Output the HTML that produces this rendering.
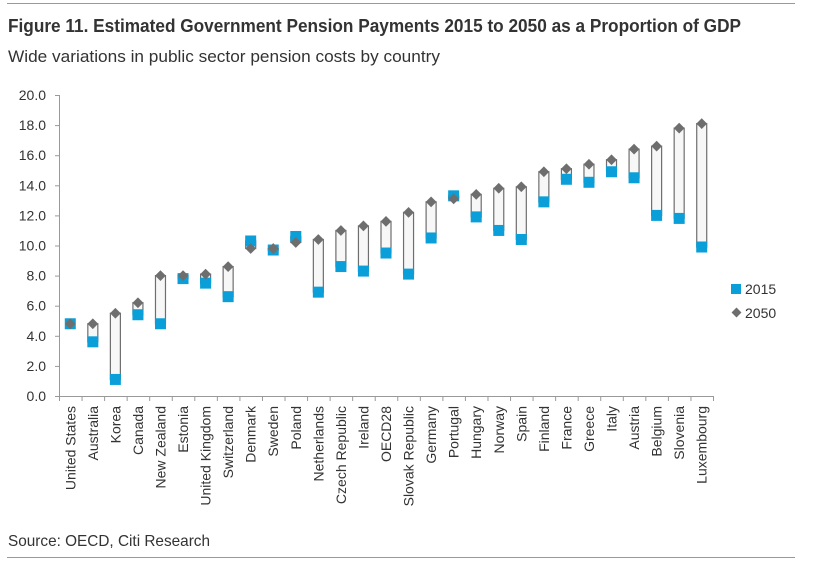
<!DOCTYPE html>
<html><head><meta charset="utf-8"><style>
body{margin:0;background:#fff;}
svg{display:block;font-family:"Liberation Sans",Arial,sans-serif;}
</style></head><body>
<svg id="chart" width="821" height="565" viewBox="0 0 821 565">
<line x1="7" y1="3.5" x2="795" y2="3.5" stroke="#999" stroke-width="1"/>
<text x="8" y="32" font-size="18" font-weight="bold" fill="#333" textLength="733" lengthAdjust="spacingAndGlyphs">Figure 11. Estimated Government Pension Payments 2015 to 2050 as a Proportion of GDP</text>
<text x="8" y="62" font-size="17" fill="#333" textLength="432" lengthAdjust="spacingAndGlyphs">Wide variations in public sector pension costs by country</text>
<g id="yaxis"></g>
<g id="xaxis"></g>
<g id="marks"></g>
<g>
<rect x="731" y="284" width="10" height="10" fill="#0a9fd8"/>
<text x="745" y="294" font-size="14" fill="#333">2015</text>
<rect x="733" y="309" width="7" height="7" fill="#6e6e6e" transform="rotate(45 736.5 312.5)"/>
<text x="745" y="318" font-size="14" fill="#333">2050</text>
</g>
<text x="8" y="546" font-size="16" fill="#333" textLength="202" lengthAdjust="spacingAndGlyphs">Source: OECD, Citi Research</text>
<line x1="7" y1="557.5" x2="795" y2="557.5" stroke="#999" stroke-width="1"/>
</svg>
<script>
const categories=["United States","Australia","Korea","Canada","New Zealand","Estonia","United Kingdom","Switzerland","Denmark","Sweden","Poland","Netherlands","Czech Republic","Ireland","OECD28","Slovak Republic","Germany","Portugal","Hungary","Norway","Spain","Finland","France","Greece","Italy","Austria","Belgium","Slovenia","Luxembourg"];
const values2015=[4.8,3.6,1.1,5.4,4.8,7.8,7.5,6.6,10.3,9.7,10.6,6.9,8.6,8.3,9.5,8.1,10.5,13.3,11.9,11.0,10.4,12.9,14.4,14.2,14.9,14.5,12.0,11.8,9.9];
const values2050=[4.8,4.8,5.5,6.2,8.0,8.0,8.1,8.6,9.8,9.8,10.2,10.4,11.0,11.3,11.6,12.2,12.9,13.1,13.4,13.8,13.9,14.9,15.1,15.4,15.7,16.4,16.6,17.8,18.1];
const yTicks=[0,2,4,6,8,10,12,14,16,18,20];
const NS="http://www.w3.org/2000/svg";
const X0=59,X1=713,Y0=396,Y1=95;
const bw=(X1-X0)/categories.length;
function x(i){return X0+bw*(i+0.5);}
function y(v){return Y0-(v/20)*(Y0-Y1);}
function mk(tag,attrs,parent){const e=document.createElementNS(NS,tag);for(const k in attrs)e.setAttribute(k,attrs[k]);parent.appendChild(e);return e;}
const ya=document.getElementById('yaxis'),xa=document.getElementById('xaxis'),mg=document.getElementById('marks');
let l=mk('line',{x1:X0+.5,y1:Y1,x2:X0+.5,y2:Y0,stroke:'#999'},ya);


yTicks.forEach(t=>{
 const tl=mk('line',{x1:X0-4,y1:y(t)+.5,x2:X0,y2:y(t)+.5,stroke:'#999'},ya);
 
 
 const tx=mk('text',{x:46,y:y(t)+5,'font-size':14,'text-anchor':'end',fill:'#333'},ya);
 tx.textContent=t.toFixed(1);
 
 
});
l=mk('line',{x1:X0,y1:Y0+.5,x2:X1,y2:Y0+.5,stroke:'#999'},xa);


for(let i=0;i<=categories.length;i++){
 const tl=mk('line',{x1:X0+bw*i+.5,y1:Y0,x2:X0+bw*i+.5,y2:Y0+5,stroke:'#999'},xa);
 
 
}
categories.forEach((c,i)=>{
 const cx=x(i);
 const tx=mk('text',{x:0,y:0,'font-size':14,'text-anchor':'end',fill:'#333',transform:`translate(${cx+5},${Y0+10}) rotate(-90)`},xa);
 tx.textContent=c;
 
 
 const a=values2015[i],b=values2050[i];
 const top=y(Math.max(a,b)),bot=y(Math.min(a,b));
 if(bot-top>0.5){
  const r=mk('rect',{x:cx-5,y:top,width:10,height:bot-top,fill:'#f7f7f7',stroke:'#6e6e6e','stroke-width':1.2},mg);
  
  
 }
 const s=mk('rect',{x:cx-5.5,y:y(a)-5.5,width:11,height:11,fill:'#0a9fd8'},mg);
 
 
 const d=mk('rect',{x:cx-3.8,y:y(b)-3.8,width:7.6,height:7.6,fill:'#6e6e6e',transform:`rotate(45 ${cx} ${y(b)})`},mg);
 
 
});
</script>
</body></html>
